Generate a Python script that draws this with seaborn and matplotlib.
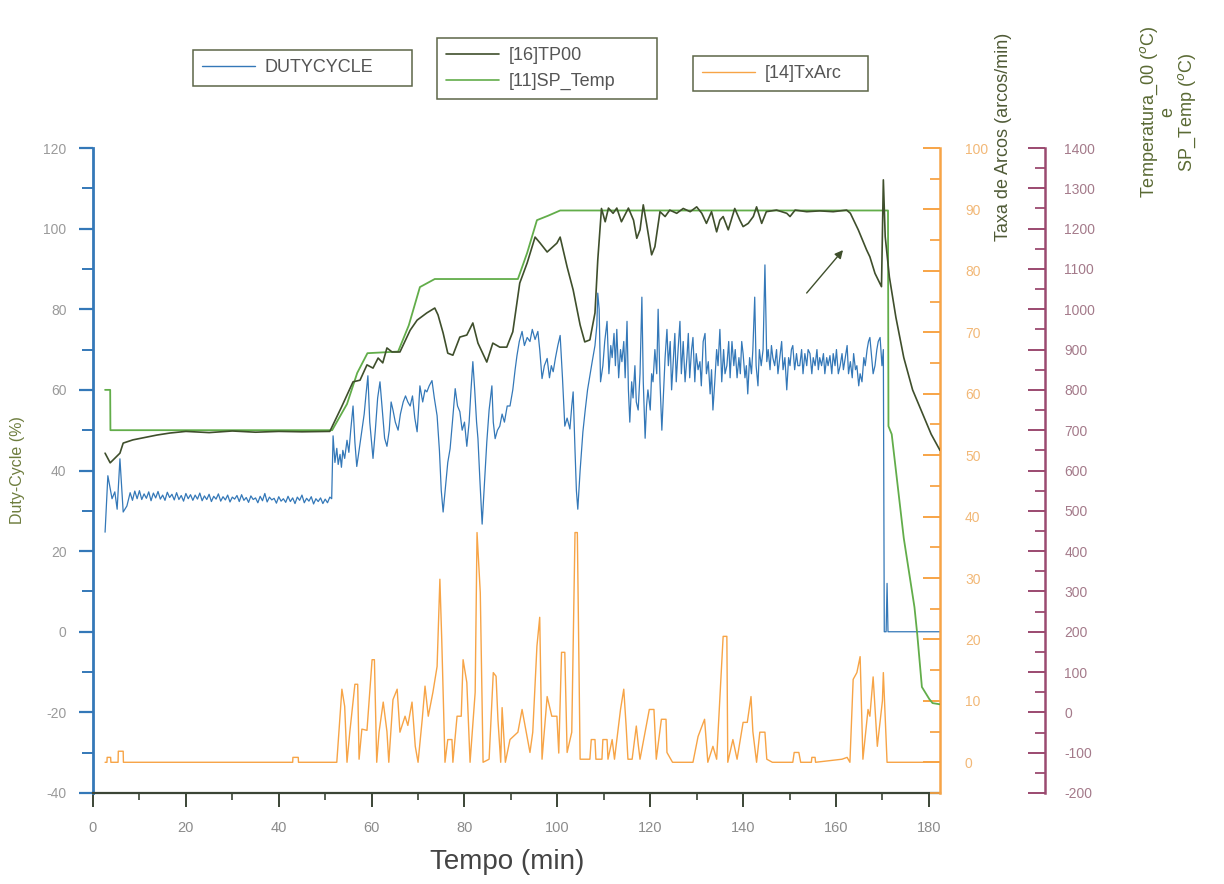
import matplotlib
matplotlib.use("Agg")
import matplotlib.pyplot as plt
import seaborn as sns
from matplotlib.ticker import MultipleLocator
from matplotlib.lines import Line2D

# ---------------- data ----------------
# DUTYCYCLE (%), left axis
duty_t = [2.6, 3.2, 4.1, 4.7, 5.2, 5.8, 6.5, 7.3,
          8.0, 8.5, 9.0, 9.5, 10.0, 10.5, 11.0, 11.5, 12.0, 12.5, 13.0, 13.5, 14.0, 14.5,
          15.0, 15.5, 16.0, 16.5, 17.0, 17.5, 18.0, 18.5, 19.0, 19.5, 20.0, 20.5, 21.0, 21.5,
          22.0, 22.5, 23.0, 23.5, 24.0, 24.5, 25.0, 25.5, 26.0, 26.5, 27.0, 27.5, 28.0, 28.5,
          29.0, 29.5, 30.0, 30.5, 31.0, 31.5, 32.0, 32.5, 33.0, 33.5, 34.0, 34.5, 35.0, 35.5,
          36.0, 36.5, 37.0, 37.5, 38.0, 38.5, 39.0, 39.5, 40.0, 40.5, 41.0, 41.5, 42.0, 42.5,
          43.0, 43.5, 44.0, 44.5, 45.0, 45.5, 46.0, 46.5, 47.0, 47.5, 48.0, 48.5, 49.0, 49.5,
          50.0, 50.5, 51.0, 51.4,
          51.7, 52.1, 52.5, 52.8, 53.2, 53.5, 53.8, 54.2, 54.7, 55.1, 55.5, 56.0, 56.4, 56.8,
          57.3, 57.9, 58.4, 58.8, 59.2, 59.6, 60.3, 60.8, 61.3, 61.8, 62.3, 62.8, 63.3, 63.8,
          64.2, 64.6, 65.1, 65.7, 66.2, 66.8, 67.3, 67.8, 68.3, 68.8, 69.3, 69.8, 70.1, 70.4,
          71.0, 71.5, 71.9, 72.4, 73.0, 73.5, 74.1, 74.6, 75.0, 75.4, 75.9, 76.4, 76.9, 77.4,
          78.0, 78.5, 79.0, 79.5, 80.0, 80.5, 81.0, 81.4, 81.8, 82.2, 82.6, 82.9, 83.3, 83.8,
          84.2, 84.8, 85.3, 85.9, 86.2, 86.6, 87.1, 87.6, 88.1, 88.6, 89.2, 89.8, 90.4, 90.9,
          91.3, 91.8, 92.4, 92.9, 93.5, 94.1, 94.6, 95.2, 95.8, 96.2, 96.7, 97.2, 97.8, 98.3,
          98.7, 99.1, 99.6, 100.1, 100.6, 101.1, 101.6, 102.1, 102.7, 103.1, 103.4, 103.8,
          104.1, 104.4, 104.9, 105.5, 106.0, 106.5, 107.0, 107.5, 108.1, 108.5, 108.7,
          109.0, 109.3, 109.8, 110.2, 110.7, 111.1, 111.5, 111.8, 112.2, 112.5, 112.8, 113.2,
          113.6, 113.9, 114.3, 114.6, 115.0, 115.3, 115.6, 116.0, 116.3, 116.7, 117.0, 117.4,
          117.8, 118.2, 118.5, 118.9, 119.2, 119.5, 120.0, 120.3, 120.6, 121.0, 121.4, 121.7,
          122.1, 122.5, 122.9, 123.2, 123.6, 123.9, 124.3, 124.6, 124.9, 125.3, 125.6, 126.0,
          126.4, 126.7, 127.1, 127.5, 127.9, 128.2, 128.5, 128.9, 129.2, 129.6, 129.9, 130.3,
          130.7, 131.0, 131.4, 131.8, 132.1, 132.5, 132.9, 133.2, 133.5, 133.9, 134.3, 134.6,
          135.0, 135.4, 135.8, 136.1, 136.5, 136.9, 137.2, 137.6, 138.0, 138.3, 138.7, 139.1,
          139.4, 139.7, 140.0, 140.4, 140.7, 141.0, 141.4, 141.8, 142.1, 142.5, 142.8, 143.2,
          143.5, 143.9, 144.3, 144.7, 145.1, 145.4, 145.8, 146.1, 146.4, 146.8, 147.2, 147.5,
          147.9, 148.3, 148.6, 149.0, 149.4, 149.8, 150.1, 150.4, 150.7, 151.1, 151.5, 151.8,
          152.2, 152.6, 152.9, 153.3, 153.7, 154.0, 154.4, 154.8, 155.1, 155.5, 155.9, 156.2,
          156.5, 156.9, 157.3, 157.6, 158.0, 158.3, 158.7, 159.1, 159.4, 159.8, 160.1, 160.5,
          160.9, 161.3, 161.6, 162.0, 162.4, 162.7, 163.1, 163.5, 163.8, 164.2, 164.5, 164.9,
          165.2, 165.6, 166.0, 166.3, 166.7, 167.0, 167.3, 167.7, 168.0, 168.4, 168.8, 169.1,
          169.5, 169.9, 170.2, 170.4, 170.8, 171.0, 171.2, 182.4]
duty_pct = [24.7, 38.7, 33.0, 34.7, 30.4, 42.9, 29.7, 31.2,
            34.5, 32.6, 34.9, 33.0, 35.0, 32.8, 34.2, 33.1, 34.7, 32.5, 34.4, 33.2, 34.8, 32.9,
            33.9, 32.6, 34.6, 33.3, 34.1, 32.7, 34.5, 32.8, 33.8, 32.4, 34.3, 33.0, 34.0, 32.6,
            33.9, 32.9, 34.4, 32.5, 33.7, 32.8, 34.1, 32.3, 33.6, 32.9, 34.2, 32.4, 33.5, 32.7,
            33.9, 32.2, 33.4, 32.9, 33.8, 32.3, 34.0, 32.6, 33.3, 32.1, 33.7, 32.8, 33.2, 32.0,
            33.6, 32.5, 34.3, 32.2, 33.4, 32.7, 33.1, 31.9, 33.5, 32.4, 33.0, 32.1, 33.6, 32.3,
            33.2, 31.8, 33.4, 32.6, 33.9, 32.0, 33.1, 32.4, 33.5, 31.7, 33.0, 32.3, 33.2, 31.8,
            32.9, 32.0, 33.4, 33.0,
            48.6, 42.0, 45.5, 41.5, 44.0, 40.8, 45.0, 43.0, 47.5, 44.5, 50.0, 56.0, 47.0, 41.0,
            45.0, 50.0, 54.0, 59.0, 63.5, 52.0, 43.0, 50.0, 58.0, 62.0, 55.0, 48.0, 46.0, 50.0,
            57.0, 55.0, 52.0, 50.0, 54.0, 57.0, 58.5, 57.0, 56.0, 58.5, 53.0, 49.6, 55.0, 61.0,
            57.0, 60.0, 59.5, 61.0, 62.3, 58.0, 53.6, 45.0, 35.0, 29.7, 36.0, 42.0, 45.4, 52.0,
            60.3, 56.0, 54.6, 50.0, 52.0, 46.0, 52.0, 60.0, 67.0, 60.0, 52.0, 47.9, 38.0, 26.7,
            35.0, 47.0, 55.0, 61.0, 52.0, 47.9, 50.0, 51.0, 54.0, 52.0, 56.0, 56.0, 60.0, 65.0,
            68.5, 72.0, 74.5, 71.0, 73.0, 72.0, 75.0, 72.5, 74.5, 70.0, 62.8, 66.0, 67.8, 63.0,
            66.0, 64.5, 68.0, 71.0, 73.5, 63.0, 51.0, 53.0, 50.3, 56.0, 59.5, 45.0,
            35.0, 30.4, 40.0, 49.6, 55.0, 60.0, 63.5, 67.0, 71.0, 76.0, 84.0,
            80.0, 62.0, 66.0, 72.0, 77.0, 64.0, 71.0, 68.0, 74.0, 66.0, 75.0, 63.0,
            70.0, 67.0, 72.0, 63.0, 77.0, 60.0, 52.0, 62.0, 58.0, 66.0, 57.0, 55.0,
            64.0, 83.0, 62.0, 48.0, 56.0, 60.0, 55.0, 64.0, 62.0, 70.0, 64.0, 80.0,
            62.0, 50.0, 60.0, 68.0, 75.0, 66.0, 72.0, 60.0, 66.0, 74.0, 62.0, 70.0,
            77.0, 64.0, 72.0, 62.0, 68.0, 74.0, 63.0, 70.0, 73.0, 62.0, 69.0, 65.0,
            67.0, 61.0, 72.0, 74.0, 64.0, 67.0, 59.0, 65.0, 55.0, 62.0, 70.0, 66.0,
            75.0, 62.0, 70.0, 64.0, 66.0, 72.0, 63.0, 72.0, 66.0, 70.0, 63.0, 68.0,
            64.0, 72.0, 69.0, 63.0, 66.0, 59.0, 68.0, 64.0, 70.0, 83.0, 66.0, 61.0,
            70.0, 66.0, 70.0, 91.0, 67.0, 70.0, 65.0, 71.0, 68.0, 66.0, 70.0, 64.0,
            68.0, 72.0, 65.0, 68.0, 60.0, 68.0, 66.0, 70.0, 71.0, 65.0, 69.0, 66.0,
            66.0, 70.0, 64.0, 69.0, 66.0, 70.0, 69.0, 64.0, 68.0, 66.0, 70.0, 65.0,
            68.0, 66.0, 69.0, 64.0, 68.0, 66.0, 68.5, 64.0, 69.0, 66.0, 70.0, 64.0,
            66.0, 69.0, 65.0, 68.0, 71.0, 64.0, 67.0, 63.0, 69.0, 65.0, 66.0, 61.0,
            64.0, 62.0, 68.0, 66.0, 70.0, 72.0, 73.0, 68.0, 64.0, 66.0, 70.0, 72.0,
            73.0, 66.0, 70.0, 0.0, 0.0, 12.0, 0.0, 0.0]

# [16]TP00 (deg C), temperature axis
tp_t = [2.6, 3.7, 5.8, 6.5, 8.6, 13.8, 16.6, 20.0, 25.0, 30.0, 35.0, 40.0, 45.0, 51.0,
        53.5, 56.0, 57.5, 59.0, 60.3, 61.4, 62.4, 63.3, 64.4, 66.1, 68.3, 69.8, 71.9, 73.6,
        74.3, 75.4, 76.4, 77.5, 79.0, 80.5, 81.8, 82.9, 84.8, 86.1, 87.6, 89.1, 90.4, 91.9,
        93.5, 95.2, 96.3, 97.8, 99.9, 100.6, 102.1, 103.4, 104.9, 105.9, 107.0, 108.1, 108.7,
        109.5, 110.3, 111.0, 112.0, 112.8, 113.8, 115.3, 116.4, 117.1, 117.8, 118.5, 119.2,
        120.3, 121.0, 122.1, 123.2, 124.2, 125.7, 127.1, 128.6, 130.0, 131.1, 132.1, 133.2,
        134.3, 135.0, 135.7, 136.8, 138.2, 139.3, 140.0, 141.1, 142.2, 142.9, 144.0, 145.0,
        147.2, 149.4, 150.1, 151.2, 153.7, 156.5, 159.4, 162.3, 163.1, 164.8, 166.6, 167.3,
        168.4, 169.8, 170.2, 170.6, 171.5, 172.9, 174.6, 176.5, 178.5, 180.5, 182.4]
tp_temp = [643, 619, 643, 668, 676, 688, 693, 697, 694, 698, 695, 697, 696, 697,
           757, 820, 824, 862, 854, 879, 867, 904, 894, 894, 948, 973, 991, 1003,
           986, 941, 891, 886, 931, 936, 966, 916, 869, 916, 906, 906, 944, 1065,
           1115, 1179, 1164, 1142, 1164, 1179, 1105, 1048, 961, 919, 924, 991, 1122,
           1250, 1217, 1251, 1238, 1251, 1217, 1251, 1221, 1176, 1197, 1259, 1213,
           1135, 1155, 1242, 1230, 1246, 1238, 1250, 1242, 1254, 1238, 1213, 1242,
           1192, 1221, 1230, 1197, 1250, 1221, 1205, 1213, 1230, 1254, 1213, 1242,
           1246, 1238, 1230, 1246, 1242, 1244, 1242, 1246, 1238, 1197, 1147, 1130,
           1089, 1056, 1321, 1180, 1080, 980, 880, 800, 745, 690, 650]

# [11]SP_Temp (deg C), temperature axis
sp_t = [2.6, 3.7, 3.75, 51.5, 54.7, 56.9, 59.1, 65.7, 68.0, 70.4, 73.6, 91.5, 93.5,
        95.6, 98.0, 100.6, 171.2, 171.3, 172.0, 174.6, 176.9, 177.5, 178.5, 180.1, 180.8,
        182.4]
sp_temp = [800, 800, 700, 700, 765, 842, 891, 895, 960, 1055, 1075, 1075, 1140,
           1221, 1232, 1245, 1245, 710, 690, 432, 261, 194, 63, 33, 23, 20]

# [14]TxArc (arcos/min), right orange axis
arc_t = [2.6, 3.0, 3.05, 3.8, 3.85, 5.4, 5.45, 6.5, 6.55, 43.0, 43.05, 44.2, 44.25, 52.5,
         53.6, 54.2, 54.7, 55.3, 56.4, 57.0, 57.3, 57.9, 59.0, 60.1, 60.6, 61.1, 61.6, 62.5,
         63.3, 63.7, 64.6, 65.5, 66.1, 67.2, 67.8, 68.7, 69.4, 70.0, 70.9, 71.5, 72.2, 73.2,
         74.1, 74.7, 75.1, 75.8, 76.4, 77.3, 77.5, 78.4, 79.3, 79.7, 80.5, 81.2, 82.3, 82.7,
         83.4, 84.0, 85.3, 86.2, 86.8, 87.2, 87.8, 88.1, 88.8, 89.8, 91.5, 92.4, 94.1, 94.7,
         95.6, 96.2, 96.7, 97.8, 98.8, 99.9, 100.3, 100.9, 101.6, 102.1, 103.1, 103.8, 104.3,
         104.9, 107.0, 107.3, 108.1, 108.3, 109.6, 109.8, 110.7, 110.9, 111.8, 112.3, 113.6,
         114.3, 114.8, 115.2, 116.1, 117.0, 117.4, 117.8, 119.8, 120.8, 121.3, 122.4, 123.4,
         123.6, 124.8, 129.2, 130.3, 131.7, 132.4, 133.5, 134.3, 135.7, 136.5, 136.7, 137.8,
         138.7, 140.0, 140.9, 141.7, 142.1, 142.9, 143.6, 144.7, 145.1, 146.3, 150.7, 151.0,
         152.0, 152.4, 154.7, 154.8, 155.5, 155.6, 161.3, 162.4, 163.0, 163.7, 164.5, 165.2,
         165.8, 166.9, 167.3, 168.0, 168.9, 170.0, 170.2, 171.0, 182.4]
arc_rate = [0, 0, 0.8, 0.8, 0, 0, 1.8, 1.8, 0, 0, 0.8, 0.8, 0, 0,
            11.9, 9.1, 0, 4.9, 12.7, 12.7, 0.5, 5.4, 5.2, 16.7, 16.7, 0, 4.9, 9.8,
            5.0, 0, 10.2, 11.9, 4.9, 7.5, 6.0, 9.8, 2.6, 0, 7.0, 12.4, 7.5, 11.4,
            15.6, 29.8, 20.0, 0, 3.7, 3.7, 0, 7.5, 7.5, 16.7, 13.0, 0, 11.4, 37.4,
            27.6, 0, 0.5, 14.6, 14.0, 7.0, 0, 8.9, 0, 3.7, 4.9, 8.6, 1.6, 4.9,
            18.9, 23.6, 0.5, 10.7, 7.5, 7.5, 1.5, 17.9, 17.9, 1.6, 4.9, 37.4, 37.4,
            0.5, 0.5, 3.7, 3.7, 0.5, 0.5, 3.7, 3.7, 0.5, 3.7, 0.5, 8.6,
            11.9, 6.0, 0.5, 0.5, 5.9, 3.0, 0.5, 8.6, 8.6, 0.5, 7.0, 7.0,
            1.6, 0, 0, 4.2, 7.0, 0, 2.6, 0.5, 20.5, 20.5, 0, 3.7,
            0.5, 6.5, 6.5, 10.7, 5.0, 0, 4.9, 4.9, 0.5, 0, 0, 1.6,
            1.6, 0, 0, 0.8, 0.8, 0, 0.5, 0.8, 0, 13.5, 14.6, 17.2,
            0.5, 8.6, 7.5, 13.9, 2.6, 10.0, 14.6, 0, 0]

x_ticks_major = 20
legend_labels = ["DUTYCYCLE", "[16]TP00", "[11]SP_Temp", "[14]TxArc"]

# ---------------- style ----------------
BLUE = "#3478b8"
TP_COL = "#3f4f2c"
SP_COL = "#62ad4a"
ORANGE = "#f7a446"
MAROON = "#9b4a70"
EDGE = "#5d6648"

sns.set_style("ticks")
plt.rcParams["font.family"] = ["Liberation Sans", "DejaVu Sans"]
plt.rcParams["axes.unicode_minus"] = False

fig = plt.figure(figsize=(12.24, 8.84), dpi=100)
ax = fig.add_axes([93 / 1224, 1 - 793 / 884, (940 - 93) / 1224, (793 - 148) / 884])
ax2 = ax.twinx()
ax3 = ax.twinx()
ax3.spines["right"].set_position(("axes", 1.124))

sns.lineplot(x=duty_t, y=duty_pct, ax=ax, color=BLUE, linewidth=0.9,
             estimator=None, sort=False, legend=False)
sns.lineplot(x=arc_t, y=arc_rate, ax=ax2, color=ORANGE, linewidth=1.0,
             estimator=None, sort=False, legend=False)
sns.lineplot(x=sp_t, y=sp_temp, ax=ax3, color=SP_COL, linewidth=1.3,
             estimator=None, sort=False, legend=False)
sns.lineplot(x=tp_t, y=tp_temp, ax=ax3, color=TP_COL, linewidth=1.2,
             estimator=None, sort=False, legend=False)

ax3.annotate("", xy=(161.9, 1152), xytext=(153.3, 1035),
             arrowprops=dict(arrowstyle="-|>", color=TP_COL, lw=1.0, mutation_scale=12))

# limits
ax.set_xlim(0, 182.4)
ax.set_ylim(-40, 120)
ax2.set_ylim(-5, 100)
ax3.set_ylim(-200, 1400)

for a in (ax, ax2, ax3):
    a.set_xlabel("")
    a.set_ylabel("")

# spines
ax.spines["top"].set_visible(False)
ax.spines["right"].set_visible(False)
ax.spines["left"].set_color(BLUE)
ax.spines["left"].set_linewidth(2.0)
ax.spines["bottom"].set_color("#3b4536")
ax.spines["bottom"].set_linewidth(1.6)
for a, c in ((ax2, ORANGE), (ax3, MAROON)):
    for s in ("top", "left", "bottom"):
        a.spines[s].set_visible(False)
    a.spines["right"].set_color(c)
    a.spines["right"].set_linewidth(1.8)

# ticks
ax.xaxis.set_major_locator(MultipleLocator(x_ticks_major))
ax.xaxis.set_minor_locator(MultipleLocator(10))
ax.yaxis.set_major_locator(MultipleLocator(20))
ax.yaxis.set_minor_locator(MultipleLocator(10))
ax.tick_params(axis="x", which="major", direction="out", length=10, width=1.4,
               color="#3b4536", labelcolor="#8c8c8c", labelsize=10.5, pad=10)
ax.tick_params(axis="x", which="minor", direction="out", length=5, width=1.2, color="#3b4536")
ax.tick_params(axis="y", which="major", direction="out", length=10, width=1.6,
               color=BLUE, labelcolor="#9a9a9a", labelsize=10, pad=9)
ax.tick_params(axis="y", which="minor", direction="out", length=8, width=1.4, color=BLUE)

ax2.yaxis.set_major_locator(MultipleLocator(10))
ax2.yaxis.set_minor_locator(MultipleLocator(5))
ax2.set_yticks(list(range(0, 101, 10)))
ax2.tick_params(axis="y", which="major", direction="in", length=12, width=1.4,
                color=ORANGE, labelcolor="#f2b877", labelsize=10, pad=18)
ax2.tick_params(axis="y", which="minor", direction="in", length=7, width=1.3, color=ORANGE)

ax3.yaxis.set_major_locator(MultipleLocator(100))
ax3.yaxis.set_minor_locator(MultipleLocator(50))
ax3.tick_params(axis="y", which="major", direction="in", length=12, width=1.4,
                color=MAROON, labelcolor="#a47a8a", labelsize=10, pad=14)
ax3.tick_params(axis="y", which="minor", direction="in", length=7, width=1.3, color=MAROON)

# axis titles
fig.text(507 / 1224, 1 - 862 / 884, "Tempo (min)", ha="center", va="center",
         fontsize=20, color="#444444")
fig.text(18 / 1224, 1 - 470 / 884, "Duty-Cycle (%)", ha="center", va="center",
         rotation=90, fontsize=11.5, color="#6e7d3e")
fig.text(1003 / 1224, 1 - 137 / 884, "Taxa de Arcos (arcos/min)", ha="center", va="center",
         rotation=90, fontsize=13, color="#4f5a36")
fig.text(1168 / 1224, 1 - 112 / 884, "Temperatura_00 ($^{o}$C)\ne\nSP_Temp ($^{o}$C)",
         ha="center", va="center", rotation=90, fontsize=13, color="#5a6a34",
         linespacing=1.0, multialignment="center")

# legends
def box(handles, labels, x0, y0, x1, y1):
    lg = fig.legend(handles=handles, labels=labels, loc="center",
                    bbox_to_anchor=(x0 / 1224, 1 - y1 / 884, (x1 - x0) / 1224, (y1 - y0) / 884),
                    mode="expand", borderaxespad=0, fancybox=False, framealpha=1,
                    edgecolor=EDGE, fontsize=13, handlelength=2.9, handletextpad=0.55,
                    borderpad=0.52, labelspacing=0.5, labelcolor="#555555")
    lg.get_frame().set_linewidth(1.1)
    return lg

box([Line2D([], [], color=BLUE, lw=1)], [legend_labels[0]], 193, 50, 412, 86)
box([Line2D([], [], color=TP_COL, lw=1.2), Line2D([], [], color=SP_COL, lw=1.2)],
    legend_labels[1:3], 437, 37, 657, 100)
box([Line2D([], [], color=ORANGE, lw=1)], [legend_labels[3]], 693, 55, 868, 92)

fig.savefig("out.png", dpi=100)
